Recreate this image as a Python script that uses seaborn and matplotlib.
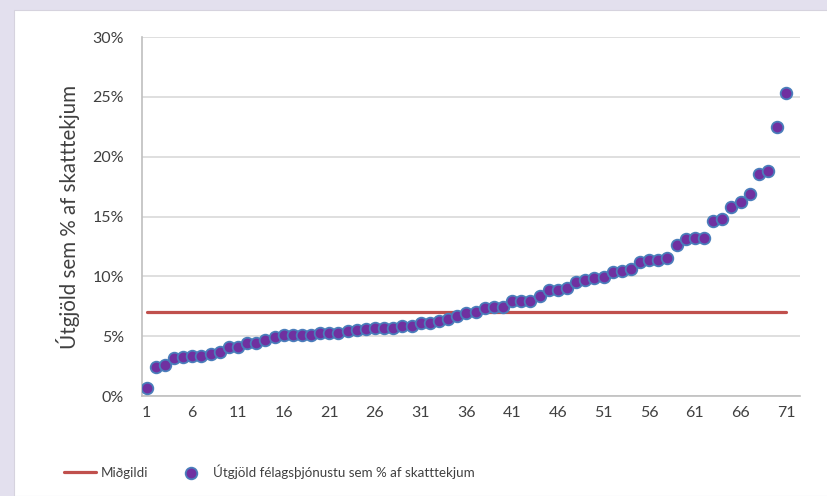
import numpy as np
import pandas as pd
import seaborn as sns
import matplotlib.pyplot as plt
from matplotlib.patches import Rectangle
from matplotlib.ticker import PercentFormatter, FixedLocator

# values (sorted, % of tax revenue)
rank = list(range(1, 72))
spend_pct = [0.69, 2.45, 2.59, 3.20, 3.22, 3.35, 3.36, 3.54, 3.68, 4.12,
             4.13, 4.43, 4.44, 4.65, 4.93, 5.07, 5.08, 5.08, 5.09, 5.24,
             5.25, 5.26, 5.46, 5.55, 5.57, 5.70, 5.71, 5.72, 5.87, 5.89,
             6.07, 6.08, 6.27, 6.40, 6.68, 6.93, 7.04, 7.32, 7.42, 7.44,
             7.90, 7.92, 7.94, 8.38, 8.88, 8.89, 9.00, 9.50, 9.66, 9.85,
             9.96, 10.40, 10.44, 10.60, 11.20, 11.36, 11.38, 11.55, 12.65, 13.10,
             13.22, 13.24, 14.66, 14.83, 15.76, 16.24, 16.88, 18.58, 18.77, 22.50,
             25.36]
median_pct = 7.0
xtick_labels = [1, 6, 11, 16, 21, 26, 31, 36, 41, 46, 51, 56, 61, 66, 71]

df = pd.DataFrame({"rank": rank, "pct": spend_pct})
df["median"] = median_pct

sns.set_style("white")
plt.rcParams["font.family"] = ["Lato", "DejaVu Sans"]

fig = plt.figure(figsize=(8.27, 4.96), dpi=100)
fig.patch.set_facecolor("#E3E0EE")
fig.patches.append(Rectangle((14 / 827, 0), 1, (496 - 10) / 496, transform=fig.transFigure,
                             facecolor="white", edgecolor="#D6D3DE", linewidth=0.8, zorder=-10))
ax = fig.add_axes([142 / 827, 100 / 496, 658 / 827, 359 / 496])
ax.set_facecolor("none")

sns.lineplot(data=df, x="rank", y="median", color="#C0504D", linewidth=2.3,
             label="Miðgildi", ax=ax, zorder=2)
sns.scatterplot(data=df, x="rank", y="pct", color="#7030A0", edgecolor="#4A7EBB",
                linewidth=1.3, s=70, label="Útgjöld félagsþjónustu sem % af skatttekjum",
                ax=ax, zorder=3)

ax.set_xlim(0.5, 72.5)
ax.set_ylim(0, 30)
ax.set_yticks([0, 5, 10, 15, 20, 25, 30])
ax.yaxis.set_major_formatter(PercentFormatter(decimals=0))
ax.set_xticks(xtick_labels)
ax.xaxis.set_minor_locator(FixedLocator(np.arange(0.5, 73, 1)))
ax.tick_params(axis="x", which="major", length=0, pad=7, labelsize=11.5, colors="#404040")
ax.tick_params(axis="x", which="minor", length=5, width=0.8, color="#BFBFBF", direction="out")
ax.tick_params(axis="y", length=0, pad=13, labelsize=11.5, colors="#404040")
ax.grid(axis="y", color="#D9D9D9", linewidth=1.2)
ax.set_axisbelow(True)
for side in ["top", "right"]:
    ax.spines[side].set_visible(False)
for side in ["left", "bottom"]:
    ax.spines[side].set_color("#BFBFBF")
    ax.spines[side].set_linewidth(1.2)

ax.set_xlabel("")
ax.set_ylabel("Útgjöld sem % af skatttekjum", fontsize=14.8, color="#404040", labelpad=9)

ax.legend(loc="center", bbox_to_anchor=(0.193, -0.21), ncol=2, frameon=False,
          fontsize=9.6, handlelength=2.4, handletextpad=0.4, columnspacing=2.0,
          labelcolor="#404040")

fig.savefig("out.png", dpi=100)
